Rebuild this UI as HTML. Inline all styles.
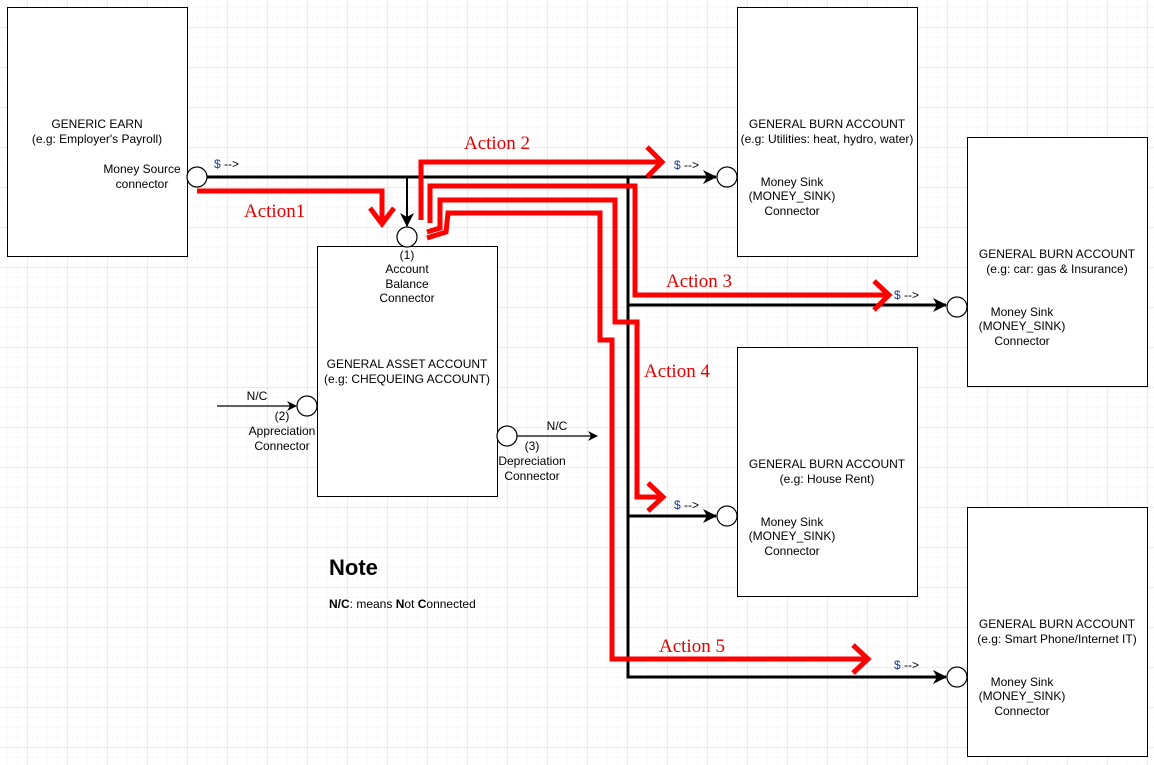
<!DOCTYPE html>
<html><head><meta charset="utf-8"><style>
html,body{margin:0;padding:0;background:#fff}
svg{display:block}
text{font-family:"Liberation Sans",sans-serif;font-size:12px;fill:#000}
.a{font-family:"Liberation Serif",serif;font-size:19px;fill:#e00000}
</style></head><body>
<svg width="1154" height="765" viewBox="0 0 1154 765" xmlns="http://www.w3.org/2000/svg">
<defs>
<pattern id="mi" width="10" height="10" patternUnits="userSpaceOnUse" x="7" y="7">
<path d="M0 0H10M0 0V10" stroke="#f3f3f3" stroke-width="1" fill="none"/></pattern>
<pattern id="ma" width="40" height="40" patternUnits="userSpaceOnUse" x="27.5" y="27.5">
<path d="M0 0H40M0 0V40" stroke="#e0e0e0" stroke-width="1" fill="none"/></pattern>
<marker id="ar" markerWidth="14" markerHeight="14" refX="13" refY="7" orient="auto" markerUnits="userSpaceOnUse"><path d="M0 0L14 7L0 14L4 7Z" fill="#000"/></marker>
<marker id="as" markerWidth="10" markerHeight="10" refX="9" refY="5" orient="auto" markerUnits="userSpaceOnUse"><path d="M0 0L10 5L0 10L3 5Z" fill="#000"/></marker>
</defs>
<rect width="1154" height="765" fill="url(#mi)"/>
<rect width="1154" height="765" fill="url(#ma)"/>

<g fill="#fff" stroke="#000" stroke-width="1">
<rect x="7.5" y="7.5" width="180" height="249"/>
<rect x="737.5" y="7.5" width="180" height="249"/>
<rect x="967.5" y="137.5" width="180" height="249"/>
<rect x="737.5" y="347.5" width="180" height="249"/>
<rect x="967.5" y="507.5" width="180" height="249"/>
<rect x="317.5" y="246.5" width="180" height="250"/>
</g>

<g stroke="#000" stroke-width="3" fill="none">
<path d="M205 177H716" marker-end="url(#ar)"/>
<path d="M628 177V677H946" marker-end="url(#ar)"/>
<path d="M628 305H946" marker-end="url(#ar)"/>
<path d="M628 516H716" marker-end="url(#ar)"/>
<path d="M407 177V226" marker-end="url(#ar)" stroke-width="2"/>
</g>
<g stroke="#000" stroke-width="1.3" fill="none">
<path d="M217 406H296" marker-end="url(#as)"/>
<path d="M517 436H597" marker-end="url(#as)"/>
</g>

<g fill="#fff" stroke="#000" stroke-width="1.2">
<circle cx="197" cy="177" r="10"/>
<circle cx="407" cy="237" r="10"/>
<circle cx="727" cy="177" r="10"/>
<circle cx="957" cy="307" r="10"/>
<circle cx="727" cy="516" r="10"/>
<circle cx="957" cy="677" r="10"/>
<circle cx="307" cy="406" r="10"/>
<circle cx="507" cy="436" r="10"/>
</g>

<g stroke="#ff0000" stroke-width="5" fill="none" stroke-linejoin="miter">
<path d="M197 191H382V224"/><path d="M370 208L382 224L394 208"/>
<path d="M421 220V162H660"/><path d="M647 147L662 162L647 177"/>
<path d="M430 223V186H635V295H887"/><path d="M874 281L889 295L874 310"/>
<path d="M427 232L440 228V200H615V322H637V497H661"/><path d="M648 483L663 497L648 511"/>
<path d="M427 238L446 232L448 213H600V340H612V659H866"/><path d="M853 645L868 659L853 673"/>
</g>

<g text-anchor="middle">
<text x="97" y="128">GENERIC EARN</text>
<text x="97" y="143">(e.g: Employer's Payroll)</text>
<text x="142" y="173">Money Source</text>
<text x="142" y="188">connector</text>
<text x="827" y="128">GENERAL BURN ACCOUNT</text>
<text x="827" y="143">(e.g: Utilities: heat, hydro, water)</text>
<text x="792" y="186">Money Sink</text><text x="792" y="200">(MONEY_SINK)</text><text x="792" y="215">Connector</text>
<text x="1057" y="258">GENERAL BURN ACCOUNT</text>
<text x="1057" y="273">(e.g: car: gas &amp; Insurance)</text>
<text x="1022" y="316">Money Sink</text><text x="1022" y="330">(MONEY_SINK)</text><text x="1022" y="345">Connector</text>
<text x="827" y="468">GENERAL BURN ACCOUNT</text>
<text x="827" y="483">(e.g: House Rent)</text>
<text x="792" y="526">Money Sink</text><text x="792" y="540">(MONEY_SINK)</text><text x="792" y="555">Connector</text>
<text x="1057" y="628">GENERAL BURN ACCOUNT</text>
<text x="1057" y="643">(e.g: Smart Phone/Internet IT)</text>
<text x="1022" y="686">Money Sink</text><text x="1022" y="700">(MONEY_SINK)</text><text x="1022" y="715">Connector</text>
<text x="407" y="259">(1)</text><text x="407" y="273">Account</text><text x="407" y="288">Balance</text><text x="407" y="302">Connector</text>
<text x="407" y="368">GENERAL ASSET ACCOUNT</text>
<text x="407" y="383">(e.g: CHEQUEING ACCOUNT)</text>
<text x="257" y="400">N/C</text>
<text x="282" y="420">(2)</text><text x="282" y="435">Appreciation</text><text x="282" y="450">Connector</text>
<text x="557" y="430">N/C</text>
<text x="532" y="450">(3)</text><text x="532" y="465">Depreciation</text><text x="532" y="480">Connector</text>
</g>
<g font-size="11">
<text x="214" y="168"><tspan fill="#1a3c9a">$</tspan> --&gt;</text>
<text x="674" y="169"><tspan fill="#1a3c9a">$</tspan> --&gt;</text>
<text x="894" y="299"><tspan fill="#1a3c9a">$</tspan> --&gt;</text>
<text x="674" y="509"><tspan fill="#1a3c9a">$</tspan> --&gt;</text>
<text x="894" y="669"><tspan fill="#1a3c9a">$</tspan> --&gt;</text>
</g>
<text x="329" y="575" style="font-size:22px;font-weight:bold">Note</text>
<text x="329" y="608" style="font-size:12px"><tspan font-weight="bold">N/C</tspan>: means <tspan font-weight="bold">N</tspan>ot <tspan font-weight="bold">C</tspan>onnected</text>

<text class="a" x="244" y="217">Action1</text>
<text class="a" x="464" y="149">Action  2</text>
<text class="a" x="666" y="287">Action  3</text>
<text class="a" x="644" y="377">Action  4</text>
<text class="a" x="659" y="652">Action  5</text>
</svg>
</body></html>
